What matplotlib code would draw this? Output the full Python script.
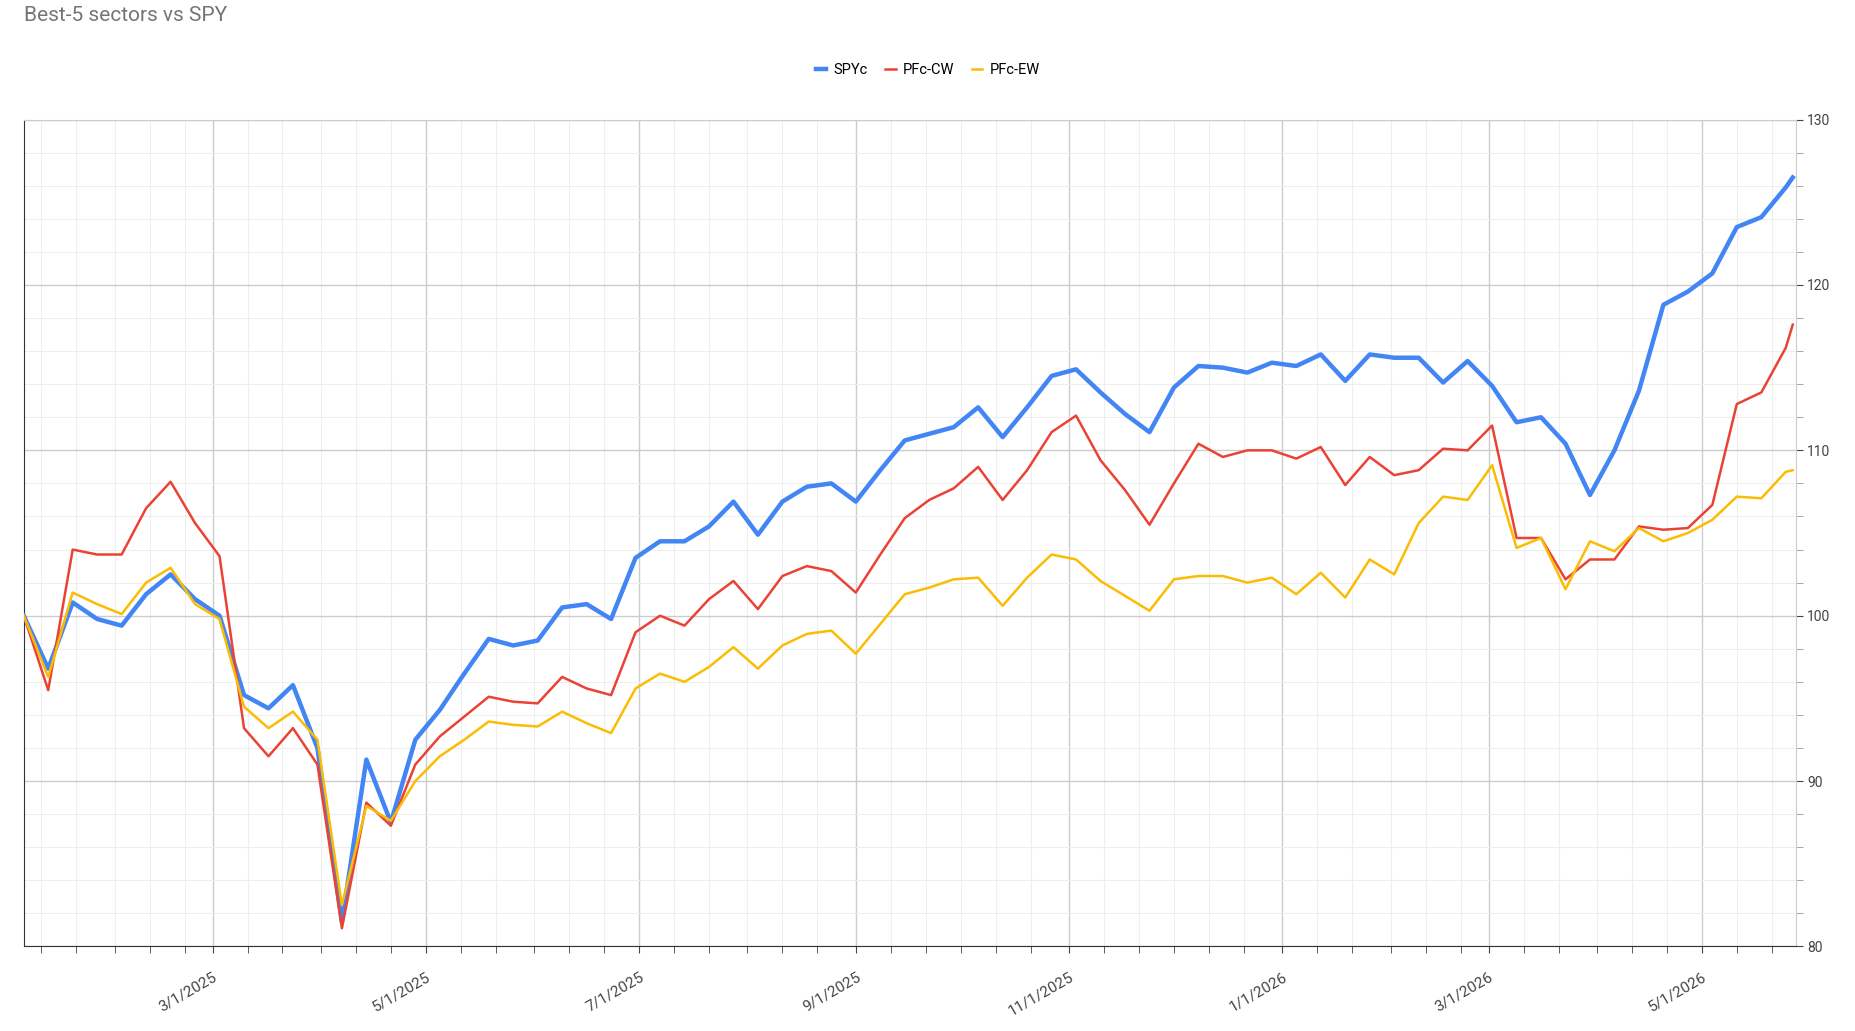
import numpy as np
import pandas as pd
import matplotlib.pyplot as plt
import matplotlib.dates as mdates
from matplotlib.ticker import MultipleLocator

plt.rcParams["font.family"] = ["Roboto", "DejaVu Sans"]

dates = list(pd.date_range("2025-01-06", periods=73, freq="7D")) + [pd.Timestamp("2026-05-27")]

spyc = [100, 96.8, 100.8, 99.8, 99.4, 101.3, 102.5, 101, 100, 95.2, 94.4, 95.8, 92, 81.5,
        91.3, 87.5, 92.5, 94.3, 96.5, 98.6, 98.2, 98.5, 100.5, 100.7, 99.8, 103.5, 104.5,
        104.5, 105.4, 106.9, 104.9, 106.9, 107.8, 108, 106.9, 108.8, 110.6, 111, 111.4,
        112.6, 110.8, 112.6, 114.5, 114.9, 113.5, 112.2, 111.1, 113.8, 115.1, 115, 114.7,
        115.3, 115.1, 115.8, 114.2, 115.8, 115.6, 115.6, 114.1, 115.4, 113.9, 111.7, 112,
        110.4, 107.3, 110, 113.6, 118.8, 119.6, 120.7, 123.5, 124.1, 125.9, 126.5]
pfc_cw = [100, 95.5, 104, 103.7, 103.7, 106.5, 108.1, 105.6, 103.6, 93.2, 91.5, 93.2, 91,
          81.1, 88.7, 87.3, 91, 92.7, 93.9, 95.1, 94.8, 94.7, 96.3, 95.6, 95.2, 99, 100,
          99.4, 101, 102.1, 100.4, 102.4, 103, 102.7, 101.4, 103.7, 105.9, 107, 107.7, 109,
          107, 108.8, 111.1, 112.1, 109.4, 107.6, 105.5, 108, 110.4, 109.6, 110, 110, 109.5,
          110.2, 107.9, 109.6, 108.5, 108.8, 110.1, 110, 111.5, 104.7, 104.7, 102.2, 103.4,
          103.4, 105.4, 105.2, 105.3, 106.7, 112.8, 113.5, 116.2, 117.6]
pfc_ew = [100, 96.3, 101.4, 100.7, 100.1, 102, 102.9, 100.7, 99.8, 94.5, 93.2, 94.2, 92.5,
          82.5, 88.5, 87.6, 90, 91.5, 92.5, 93.6, 93.4, 93.3, 94.2, 93.5, 92.9, 95.6, 96.5,
          96, 96.9, 98.1, 96.8, 98.2, 98.9, 99.1, 97.7, 99.5, 101.3, 101.7, 102.2, 102.3,
          100.6, 102.3, 103.7, 103.4, 102.1, 101.2, 100.3, 102.2, 102.4, 102.4, 102, 102.3,
          101.3, 102.6, 101.1, 103.4, 102.5, 105.6, 107.2, 107, 109.1, 104.1, 104.7, 101.6,
          104.5, 103.9, 105.3, 104.5, 105, 105.8, 107.2, 107.1, 108.7, 108.8]

fig = plt.figure(figsize=(18.56, 10.31), dpi=100)
ax = fig.add_axes([0.0128, 0.082, 0.955, 0.802])

ax.plot(dates, spyc, color="#4285f4", lw=3.2, label="SPYc", zorder=3)
ax.plot(dates, pfc_cw, color="#ea4335", lw=1.8, label="PFc-CW", zorder=4)
ax.plot(dates, pfc_ew, color="#fbbc04", lw=1.8, label="PFc-EW", zorder=4)

ax.set_ylim(80, 130)
ax.set_xlim(pd.Timestamp("2025-01-06"), pd.Timestamp("2026-05-28"))
ax.yaxis.tick_right()
ax.yaxis.set_major_locator(MultipleLocator(10))
ax.yaxis.set_minor_locator(MultipleLocator(2))
ax.xaxis.set_major_locator(mdates.MonthLocator(bymonth=[1, 3, 5, 7, 9, 11]))
ax.xaxis.set_major_formatter(mdates.DateFormatter("%-m/%-d/%Y"))
ax.xaxis.set_minor_locator(mdates.DayLocator(bymonthday=[1, 11, 21]))
ax.grid(which="major", color="#cccccc", lw=1)
ax.grid(which="minor", color="#eeeeee", lw=0.8)
ax.tick_params(axis="y", which="both", labelsize=10, colors="#444444", length=5, pad=3)
ax.tick_params(axis="y", which="minor", color="#999999")
ax.tick_params(axis="x", which="both", labelsize=11, colors="#444444", length=5, pad=12)
for lbl in ax.get_xticklabels():
    lbl.set_rotation(30)
    lbl.set_ha("right")
    lbl.set_rotation_mode("anchor")
for s in ["top", "right"]:
    ax.spines[s].set_color("#cccccc")
ax.spines["left"].set_color("#333333")
ax.spines["bottom"].set_color("#333333")

fig.text(0.0128, 0.985, "Best-5 sectors vs SPY", fontsize=15, color="#757575", va="center")
fig.legend(loc="center", bbox_to_anchor=(0.5, 0.932), ncol=3, frameon=False, fontsize=10.5,
           handlelength=0.7, handletextpad=0.5, columnspacing=1.2)

fig.savefig("out.png", dpi=100)
